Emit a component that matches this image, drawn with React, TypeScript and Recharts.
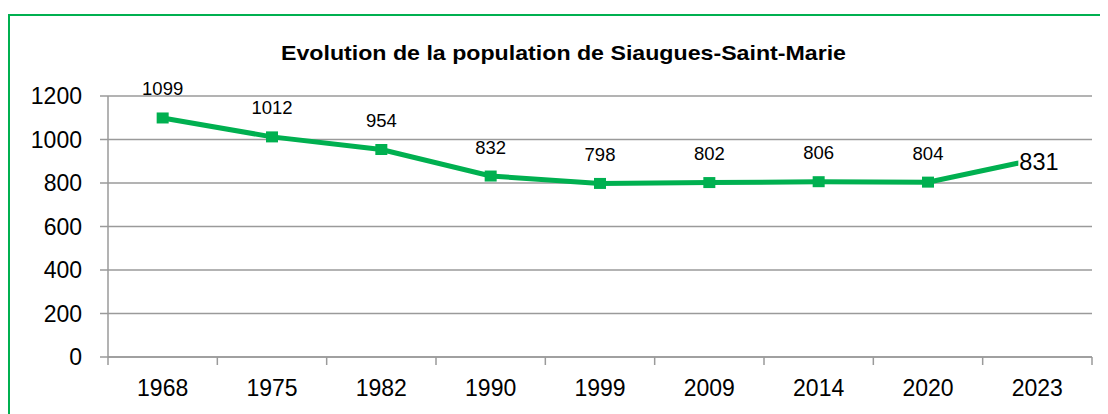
import React from 'react';
import { LineChart, Line, XAxis, YAxis, CartesianGrid, LabelList } from 'recharts';

const years = ['1968', '1975', '1982', '1990', '1999', '2009', '2014', '2020', '2023'];
const population = [1099, 1012, 954, 832, 798, 802, 806, 804, 910];
const valueLabels = ['1099', '1012', '954', '832', '798', '802', '806', '804', '831'];
const yTicks = [0, 200, 400, 600, 800, 1000, 1200];
const title = 'Evolution de la population de Siaugues-Saint-Marie';

const data = years.map((y, i) => ({ year: y, population: population[i], label: valueLabels[i] }));

const GREEN = '#00B050';
const GRAY = '#9a9a9a';
const FONT = '"Liberation Sans", Arial, sans-serif';

const CHART_W = 1100;
const CHART_H = 406;
const MARGIN = { top: 88, right: 16, bottom: 0, left: 0 };
const Y_W = 100;
const X_H = 57;
const TICK_SIZE = 8;
const TICK_MARGIN = 15;

const plotW = CHART_W - MARGIN.left - MARGIN.right - Y_W;
const halfBand = plotW / years.length / 2;

const XTick = (props: any) => {
  const { x, y, payload, index } = props;
  const axisY = y - TICK_SIZE - TICK_MARGIN;
  const off = payload && typeof payload.offset === 'number' && payload.offset > 0 ? payload.offset : halfBand;
  return (
    <g>
      <line x1={x - off} x2={x - off} y1={axisY} y2={axisY + TICK_SIZE} stroke={GRAY} strokeWidth={1.5} />
      {index === years.length - 1 && (
        <line x1={x + off} x2={x + off} y1={axisY} y2={axisY + TICK_SIZE} stroke={GRAY} strokeWidth={1.5} />
      )}
      <text x={x} y={y} dy="0.71em" textAnchor="middle" fontSize={23} fill="#000" fontFamily={FONT}>
        {payload.value}
      </text>
    </g>
  );
};

const Dot = (props: any) => {
  const { cx, cy, index } = props;
  if (index === years.length - 1 || cx == null) return <g key={`d${index}`} />;
  return <rect key={`d${index}`} x={cx - 6} y={cy - 5.5} width={12} height={11} fill={GREEN} />;
};

const Label = (props: any) => {
  const { x, y, index, value } = props;
  if (index === years.length - 1) {
    const cy = y + 2.5;
    return (
      <g>
        <rect x={x - 19} y={cy - 14} width={50} height={28} fill="#fff" />
        <text x={x - 18} y={cy} dy="0.35em" textAnchor="start" fontSize={23.5} fill="#000" fontFamily={FONT}>
          {value}
        </text>
      </g>
    );
  }
  return (
    <text x={x} y={y - 29} dy="0.35em" textAnchor="middle" fontSize={18.5} fill="#000" fontFamily={FONT}>
      {value}
    </text>
  );
};

export default function App() {
  return (
    <div style={{ position: 'relative', width: CHART_W, height: CHART_H, overflow: 'hidden', fontFamily: FONT, background: '#fff' }}>
      <div
        style={{
          position: 'absolute',
          left: 0,
          top: 6,
          width: 1300,
          height: 600,
          borderTop: `2px solid ${GREEN}`,
          borderLeft: `2px solid ${GREEN}`,
          boxSizing: 'border-box',
        }}
      />
      <LineChart width={CHART_W} height={CHART_H} data={data} margin={MARGIN} style={{ position: 'absolute', left: 0, top: 0 }}>
        <CartesianGrid vertical={false} stroke={GRAY} strokeWidth={1.5} />
        <XAxis
          dataKey="year"
          scale="band"
          height={X_H}
          axisLine={{ stroke: GRAY, strokeWidth: 1.5 }}
          tickLine={false}
          tickSize={TICK_SIZE}
          tickMargin={TICK_MARGIN}
          interval={0}
          tick={<XTick />}
        />
        <YAxis
          width={Y_W}
          domain={[0, 1200]}
          ticks={yTicks}
          interval={0}
          axisLine={{ stroke: GRAY, strokeWidth: 1.5 }}
          tickLine={{ stroke: GRAY, strokeWidth: 1.5 }}
          tickSize={TICK_SIZE}
          tickMargin={18}
          tick={{ fontSize: 23, fill: '#000', fontFamily: FONT }}
        />
        <Line
          type="linear"
          dataKey="population"
          stroke={GREEN}
          strokeWidth={5}
          dot={<Dot />}
          activeDot={false}
          isAnimationActive={false}
        >
          <LabelList dataKey="label" content={<Label />} />
        </Line>
      </LineChart>
      <svg width={CHART_W} height={90} style={{ position: 'absolute', left: 0, top: 0 }}>
        <text
          x={555.5}
          y={52}
          textAnchor="middle"
          fontSize={21}
          fontWeight="bold"
          fill="#000"
          fontFamily={FONT}
          textLength={565}
          lengthAdjust="spacingAndGlyphs"
        >
          {title}
        </text>
      </svg>
    </div>
  );
}
